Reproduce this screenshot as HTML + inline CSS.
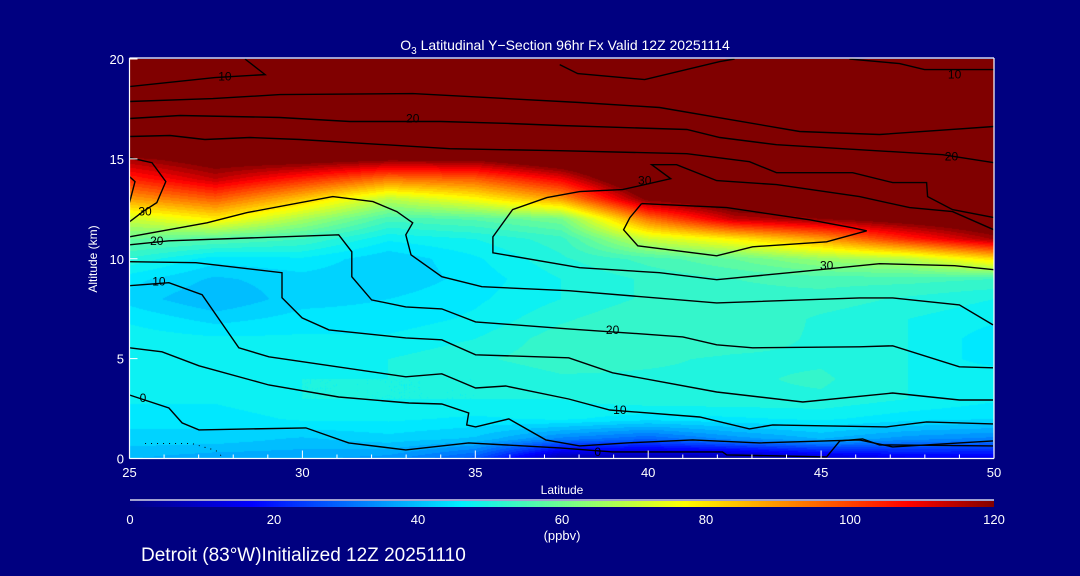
<!DOCTYPE html>
<html><head><meta charset="utf-8">
<style>
html,body{margin:0;padding:0;background:#000080;}
#root{position:relative;width:1080px;height:576px;background:#000080;overflow:hidden;font-family:"Liberation Sans",sans-serif;color:#fff;}
canvas{position:absolute;}
svg{position:absolute;left:0;top:0;}
</style></head>
<body>
<div id="root">
<canvas id="heat" width="865" height="400" style="left:129px;top:59px;"></canvas>
<canvas id="cbar" width="865" height="6" style="left:129px;top:501px;"></canvas>
<svg id="svg" width="1080" height="576"></svg>
</div>
<script>
// ---- data ----
const lats = [25,27.5,30,32.5,35,37.5,40,42.5,45,47.5,50];
const alts = [0,1,2,3,4,5,6,7,8,9,10,11,12,13,14,15,16,17,18,19,20];
const ozone = [
[40,38,38,36,28,5,5,5,10,15,15],
[44,44,42,44,42,34,30,36,40,36,34],
[46,46,48,48,47,48,46,47,48,46,45],
[48,48,50,50,50,50,52,52,52,50,48],
[49,48,50,50,50,52,52,52,53,50,50],
[49,48,48,50,52,54,53,52,52,50,46],
[49,48,48,48,50,54,55,54,52,50,46],
[47,44,46,46,48,52,55,55,52,50,48],
[44,40,44,45,47,50,53,54,54,52,50],
[46,42,44,43,46,50,53,55,56,56,55],
[52,46,47,43,47,52,56,60,66,70,82],
[60,58,55,48,50,54,72,80,90,105,118],
[72,80,68,56,58,62,95,115,120,125,130],
[90,98,85,70,78,90,122,130,130,135,140],
[105,115,105,95,98,110,135,140,140,140,140],
[118,125,125,122,122,130,140,145,145,145,145],
[150,150,150,150,150,150,150,150,150,150,150],
[150,150,150,150,150,150,150,150,150,150,150],
[150,150,150,150,150,150,150,150,150,150,150],
[150,150,150,150,150,150,150,150,150,150,150],
[150,150,150,150,150,150,150,150,150,150,150]
];
const contourLats = [
[25,27.47,28.92,28.34],
[37.44,37.96,39.9,42.07,42.5],
[45.82,47.27,47.99,50],
[25,27.41,29.35,33.19,38.02,40.33,44.38,46.69,50],
[25,26.46,29.35,31.37,34.0,36.0,37.44,41.12,42.07,43.71,48.51,50],
[25,26.17,27.18,28.48,29.93,34.26,37.44,41.12,42.93,43.71,45.91,47.07,48.05,48.08,48.8,50],
[50,48.86,46.69,44.38,41.98,40.33,38.02,35.51,35.51,36.08,37.07,38.02,39.26,40.65,40.1,40.82,41.98,43.71,46.11,47.56,48.8,50],
[39.81,39.47,39.29,39.7,41.98,43.02,45.16,46.32,45.91,44.67,42.27,39.81],
[25,25.65,26.05,25.79,25.39,25],
[25,25.16,25],
[25,27.24,28.4,30.88,32.04,32.73,33.19,32.99,33.14,34.03,35.19,37.7,41.98,46.11,47.07,49.0,49.97],
[25,26.14,31.05,31.43,31.43,32.0,32.99,34.03,35.01,37.7,39.38,41.0,41.98,43.02,46.11,47.07,49.0,49.97],
[25,26.92,29.41,29.41,29.99,30.77,32.99,34.03,35.01,37.7,38.97,41.98,44.47,47.07,49.0,49.97],
[25,26.14,27.1,28.16,29.03,32.99,34.03,35.01,35.88,37.7,38.89,41.49,42.93,43.6,46.89,48.05,49.97],
[25,25.94,27.01,29.03,31.05,33.08,34.03,34.81,34.75,35.01,35.97,37.04,38.02,39.38,41.29,43.22,46.11,47.07,49.0,49.97],
[25,26.14,26.52,27.01,30.1,31.34,32.99,34.81,37.44,38.97,42.15,42.27,45.16,45.54,46.2,46.69,49.97]
];
const contourAlts = [
[18.62,19.07,19.22,20],
[19.72,19.27,18.97,19.87,20],
[20,19.77,19.47,19.47],
[17.87,18.02,18.22,18.27,17.82,17.57,16.37,16.22,16.62],
[17.02,17.17,17.07,16.87,16.87,16.77,16.67,16.47,16.07,15.71,15.21,14.81],
[16.12,16.17,15.97,16.07,15.97,15.51,15.41,15.26,14.86,14.31,14.31,13.81,13.81,13.11,12.46,12.06],
[9.45,9.65,9.75,9.35,8.95,9.3,9.55,10.3,11.1,12.46,13.06,13.36,13.46,14.01,14.71,14.71,13.91,13.71,13.11,12.56,12.36,11.45],
[12.76,12.06,11.45,10.65,10.15,10.6,10.85,11.4,11.55,11.95,12.56,12.76],
[15.06,14.81,13.86,12.81,12.36,11.85],
[12.81,13.86,14.11],
[11.1,11.8,12.31,13.11,12.86,12.36,11.8,11.2,10.2,9.1,8.6,8.4,7.79,8.04,8.04,7.69,6.69],
[10.7,10.9,11.2,10.35,9.1,7.94,7.59,7.49,6.84,6.49,6.29,6.09,5.69,5.54,5.59,5.64,4.59,4.54],
[9.85,9.8,9.3,8.05,7.04,6.44,6.04,5.94,5.19,5.04,4.29,3.33,2.83,3.28,2.93,2.93],
[8.65,8.8,8.2,5.54,5.09,4.09,4.24,3.53,3.63,2.98,2.43,2.08,1.48,1.68,1.58,1.83,1.73],
[5.54,5.34,4.64,3.68,3.08,2.78,2.73,2.28,1.68,1.58,1.98,0.93,0.63,0.78,0.93,0.78,0.93,0.58,0.78,0.88],
[3.18,2.53,1.78,1.43,1.53,0.78,0.43,0.78,0.53,0.33,0.33,0.18,0.08,0.88,0.98,0.68,0.63]
];
const labelText = ["10","20","10","20","30","30","20","10","0","30","20","10","0"];
const labelLat = [27.76,33.19,48.86,48.77,39.9,25.45,25.79,25.85,25.39,45.16,38.97,39.18,38.54];
const labelAlt = [19.12,17.02,19.22,15.11,13.91,12.36,10.9,8.85,3.03,9.65,6.44,2.43,0.33];
const xTicks = [25,30,35,40,45,50];
const yTicks = [0,5,10,15,20];
const cbarTicks = [0,20,40,60,80,100,120];

// ---- axes ----
const X0=129.5, X1=994, Y0=458.5, Y1=59;
const xs = v => X0 + (v-25)/(50-25)*(X1-X0);
const ys = v => Y0 - v/20*(Y0-Y1);

const stops=[[0,[0,0,128]],[17,[0,0,255]],[46,[0,240,255]],[62,[128,255,128]],[77,[255,255,0]],[108,[255,0,0]],[120,[128,0,0]]];
function cmap(v){
  v=Math.max(0,Math.min(120,Math.floor(v/2.5)*2.5));
  for(let i=1;i<stops.length;i++){
    if(v<=stops[i][0]){
      const a=stops[i-1],b=stops[i],t=(v-a[0])/(b[0]-a[0]);
      return [0,1,2].map(k=>Math.round(a[1][k]+(b[1][k]-a[1][k])*t));
    }
  }
  return stops[stops.length-1][1];
}
function sample(lat,alt){
  let fi=(lat-25)/2.5, fj=alt;
  fi=Math.max(0,Math.min(lats.length-1.0001,fi)); fj=Math.max(0,Math.min(alts.length-1.0001,fj));
  const i=Math.floor(fi),j=Math.floor(fj),u=fi-i,w=fj-j;
  return ozone[j][i]*(1-u)*(1-w)+ozone[j][i+1]*u*(1-w)+ozone[j+1][i]*(1-u)*w+ozone[j+1][i+1]*u*w;
}
// heatmap
(function(){
  const c=document.getElementById('heat'),ctx=c.getContext('2d');
  const W=c.width,H=c.height,img=ctx.createImageData(W,H);
  for(let py=0;py<H;py++){
    const alt=20-(py+0.5)/H*20;
    for(let px=0;px<W;px++){
      const lat=25+(px+0.5)/W*25;
      const col=cmap(sample(lat,alt));
      const o=(py*W+px)*4;
      img.data[o]=col[0];img.data[o+1]=col[1];img.data[o+2]=col[2];img.data[o+3]=255;
    }
  }
  ctx.putImageData(img,0,0);
  const cb=document.getElementById('cbar'),cx=cb.getContext('2d');
  for(let px=0;px<cb.width;px++){
    const v=px/cb.width*120, k=[0,1,2].map(()=>0);
    // smooth colorbar
    let col;
    for(let i=1;i<stops.length;i++){ if(v<=stops[i][0]){const a=stops[i-1],b=stops[i],t=(v-a[0])/(b[0]-a[0]);col=[0,1,2].map(q=>Math.round(a[1][q]+(b[1][q]-a[1][q])*t));break;} }
    cx.fillStyle='rgb('+col.join(',')+')';cx.fillRect(px,0,1,6);
  }
})();

const NS='http://www.w3.org/2000/svg', svg=document.getElementById('svg');
function mk(tag,attrs,parent){const e=document.createElementNS(NS,tag);for(const k in attrs)e.setAttribute(k,attrs[k]);(parent||svg).appendChild(e);return e;}
// contours
const cg=mk('g',{});


contourLats.forEach((la,i)=>{
  const pts=la.map((v,k)=>xs(v).toFixed(1)+','+ys(contourAlts[i][k]).toFixed(1)).join(' ');
  const p=mk('polyline',{points:pts,fill:'none',stroke:'#000','stroke-width':1.4},cg);
  
  
});
// dotted line bottom-left
const dl=mk('polyline',{points:xs(25.45)+','+ys(0.75)+' '+xs(26.8)+','+ys(0.75)+' '+xs(27.5)+','+ys(0.4)+' '+xs(27.7)+','+ys(0.05),fill:'none',stroke:'#000','stroke-width':1,'stroke-dasharray':'1 5'},cg);


labelText.forEach((t,i)=>{
  const e=mk('text',{x:xs(labelLat[i]),y:ys(labelAlt[i])+4,'text-anchor':'middle','font-size':12,fill:'#000'},cg);
  e.textContent=t;
  
  
});
// frame
const fr=mk('g',{stroke:'#fff','stroke-width':1.2,fill:'none'});


mk('line',{x1:X0,y1:Y1-1,x2:X1,y2:Y1-1},fr);
mk('line',{x1:X1,y1:Y1-1,x2:X1,y2:Y0},fr);
mk('line',{x1:X0,y1:Y1-1,x2:X0,y2:Y0},fr);
mk('line',{x1:X0,y1:Y0,x2:X1,y2:Y0},fr);
// x ticks
for(let v=25;v<=50;v++){
  const major=xTicks.includes(v);
  mk('line',{x1:xs(v),y1:Y0,x2:xs(v),y2:Y0-(major?8:4),stroke:'#fff','stroke-width':1});
}
xTicks.forEach(v=>{
  const t=mk('text',{x:xs(v),y:477,'text-anchor':'middle','font-size':13,fill:'#fff'});
  t.textContent=v;
  
  
});
yTicks.forEach(v=>{
  mk('line',{x1:X0,y1:ys(v),x2:X0+8,y2:ys(v),stroke:'#fff','stroke-width':1});
  const t=mk('text',{x:124,y:ys(v)+5,'text-anchor':'end','font-size':13,fill:'#fff'});
  t.textContent=v;
  
  
});
// colorbar
mk('line',{x1:130,y1:500,x2:994,y2:500,stroke:'#fff','stroke-width':1.2});
cbarTicks.forEach(v=>{
  const t=mk('text',{x:130+v/120*864,y:524,'text-anchor':'middle','font-size':13,fill:'#fff'});
  t.textContent=v;
  
  
});
</script>
<svg width="1080" height="576" style="position:absolute;left:0;top:0;pointer-events:none">
<text x="565" y="50" text-anchor="middle" font-size="14" fill="#fff" font-family="Liberation Sans, sans-serif">O<tspan font-size="10" dy="4">3</tspan><tspan dy="-4"> Latitudinal Y−Section 96hr  Fx Valid 12Z 20251114</tspan></text>
<text transform="translate(97,259) rotate(-90)" text-anchor="middle" font-size="12" fill="#fff" font-family="Liberation Sans, sans-serif">Altitude (km)</text>
<text x="562" y="494" text-anchor="middle" font-size="12" fill="#fff" font-family="Liberation Sans, sans-serif">Latitude</text>
<text x="562" y="540" text-anchor="middle" font-size="13" fill="#fff" font-family="Liberation Sans, sans-serif">(ppbv)</text>
<text x="141" y="561" font-size="19" fill="#fff" font-family="Liberation Sans, sans-serif">Detroit (83°W)Initialized 12Z 20251110</text>
</svg>
</body></html>
